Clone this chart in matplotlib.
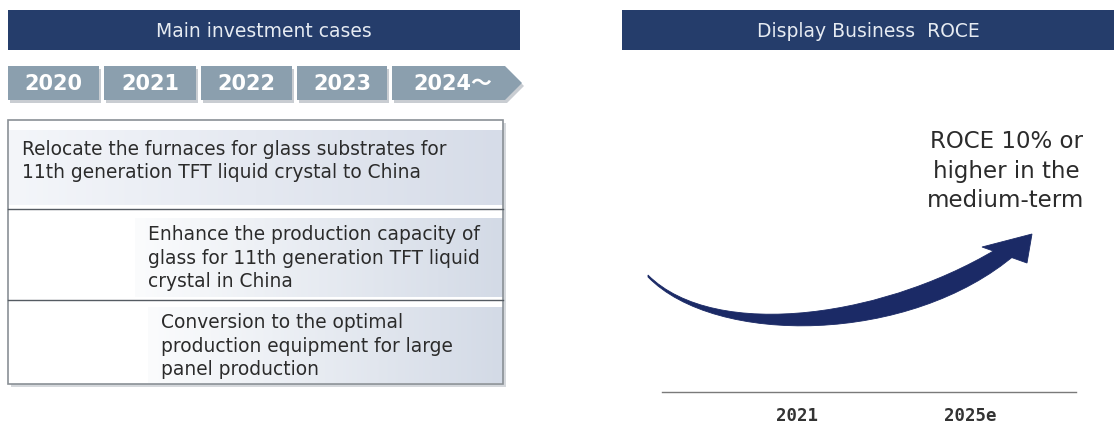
#!/usr/bin/env python

import numpy as np
import matplotlib
matplotlib.use('Agg')
import matplotlib.pyplot as plt
from matplotlib.patches import Rectangle, Polygon, PathPatch
from matplotlib.path import Path
from matplotlib.colors import LinearSegmentedColormap

left_title = 'Main investment cases'
right_title = 'Display Business  ROCE'
years = ['2020', '2021', '2022', '2023', '2024～']
cases = ['Relocate the furnaces for glass substrates for\n11th generation TFT liquid crystal to China',
         'Enhance the production capacity of\nglass for 11th generation TFT liquid\ncrystal in China',
         'Conversion to the optimal\nproduction equipment for large\npanel production']
roce_years = ['2021', '2025e']
roce_note = 'ROCE 10% or\nhigher in the\nmedium-term'

# sweeping arrow: bezier control points of upper and lower edge, then the head
arrow_upper = [(648, 275), (715, 342), (890, 318), (1008, 242)]
arrow_lower = [(1016, 254), (910, 345), (715, 346), (648, 277)]
arrow_head = [(982, 247), (1032, 234), (1027, 263)]

NAVY = '#253d6b'
CHEV = '#8b9fae'
ARROW = '#1b2a66'


def gradient(ax, x0, x1, y0, y1, c0, c1):
    cmap = LinearSegmentedColormap.from_list('g', [c0, c1])
    g = np.linspace(0, 1, 256).reshape(1, -1)
    ax.imshow(g, cmap=cmap, extent=[x0, x1, y1, y0], aspect='auto', zorder=1, interpolation='bicubic')


def main():
    fig = plt.figure(figsize=(11.14, 4.25), dpi=100)
    ax = fig.add_axes([0, 0, 1, 1])
    plt.rcParams['font.family'] = ['DejaVu Sans', 'Noto Sans CJK JP']

    # headers
    ax.add_patch(Rectangle((8, 10), 512, 40, fc=NAVY, ec='none', zorder=2))
    ax.text(264, 31, left_title, color='#e6ebf2', fontsize=13.5, ha='center', va='center', zorder=3)
    ax.add_patch(Rectangle((622, 10), 492, 40, fc=NAVY, ec='none', zorder=2))
    ax.text(868, 31, right_title, color='#e6ebf2', fontsize=13.5, ha='center', va='center', zorder=3)

    # year chevrons
    starts = [8, 104, 201, 297, 392]
    ends = [99, 196, 292, 387, 505]
    for i, (yr, x0, x1) in enumerate(zip(years, starts, ends)):
        if i == len(years) - 1:
            pts = [(x0, 66), (x1, 66), (x1 + 17, 83), (x1, 100), (x0, 100)]
        else:
            pts = [(x0, 66), (x1, 66), (x1, 100), (x0, 100)]
        sh = [(px + 2, py + 3) for px, py in pts]
        ax.add_patch(Polygon(sh, closed=True, fc='#c9cdd2', ec='none', zorder=2))
        ax.add_patch(Polygon(pts, closed=True, fc=CHEV, ec='none', zorder=3))
        cx = (x0 + x1) / 2 + (4 if i == len(years) - 1 else 0)
        ax.text(cx, 84, yr, color='white', fontsize=15, fontweight='bold',
                ha='center', va='center', zorder=4, family=['DejaVu Sans', 'Noto Sans CJK JP'])

    # case box
    ax.add_patch(Rectangle((11, 123), 495, 264, fc='#d5d8dc', ec='none', zorder=0))
    ax.add_patch(Rectangle((8, 120), 495, 264, fc='white', ec='none', zorder=0.5))
    gradient(ax, 9, 503, 131, 205, '#f4f6fa', '#d6dce8')
    gradient(ax, 135, 503, 218, 297, '#fbfcfd', '#d3dae6')
    gradient(ax, 148, 503, 307, 383, '#fbfcfd', '#d3dae6')
    ax.add_patch(Rectangle((8, 120), 495, 264, fc='none', ec='#8a9096', lw=1.2, zorder=2))
    for yy in [209, 300]:
        ax.plot([8, 503], [yy, yy], color='#555b62', lw=1.0, zorder=2)

    text_x = [22, 148, 161]
    text_y = [161, 258, 346]
    for s, tx, ty in zip(cases, text_x, text_y):
        ax.text(tx, ty, s, fontsize=13.4, color='#2b2b2b', ha='left', va='center',
                linespacing=1.30, zorder=3)

    # arrow
    verts = arrow_upper + arrow_lower + [arrow_upper[0]]
    codes = ([Path.MOVETO, Path.CURVE4, Path.CURVE4, Path.CURVE4, Path.LINETO,
              Path.CURVE4, Path.CURVE4, Path.CURVE4, Path.CLOSEPOLY])
    ax.add_patch(PathPatch(Path(verts, codes), fc=ARROW, ec=ARROW, lw=0.6, zorder=3))
    ax.add_patch(Polygon(arrow_head, closed=True, fc=ARROW, ec=ARROW, lw=0.6, zorder=3))

    ax.text(1006, 171, roce_note, fontsize=16.5, color='#2b2b2b', ha='center', va='center',
            linespacing=1.37, zorder=3)

    # baseline and years
    ax.plot([662, 1076], [392, 392], color='#7a7a7a', lw=1.0, zorder=2)
    for lbl, lx in zip(roce_years, [797, 970]):
        ax.text(lx, 416, lbl, fontsize=12.5, fontweight='bold', color='#333333',
                family='DejaVu Sans Mono', ha='center', va='center')

    ax.set_xlim(0, 1114)
    ax.set_ylim(425, 0)
    ax.axis('off')
    fig.savefig('out.png', dpi=100, facecolor='white')


if __name__ == '__main__':
    main()
